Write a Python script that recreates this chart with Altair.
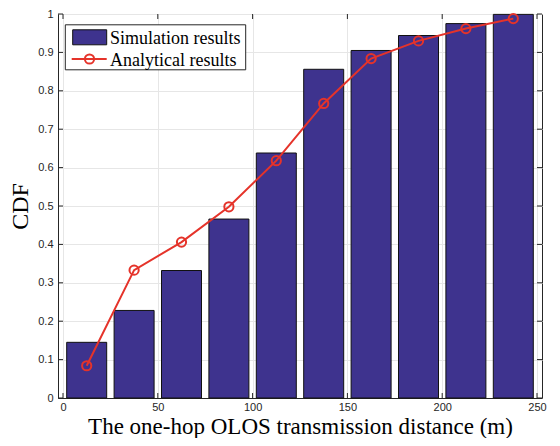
import altair as alt
import pandas as pd

# ---- data ----
bin_centers = [12.5, 37.5, 62.5, 87.5, 112.5, 137.5, 162.5, 187.5, 212.5, 237.5]
sim_cdf = [0.145, 0.228, 0.332, 0.466, 0.638, 0.856, 0.905, 0.944, 0.975, 0.999]
ana_cdf = [0.084, 0.333, 0.406, 0.498, 0.618, 0.767, 0.884, 0.930, 0.962, 0.988]
x_ticks = [0, 50, 100, 150, 200, 250]
y_ticks = [0, 0.1, 0.2, 0.3, 0.4, 0.5, 0.6, 0.7, 0.8, 0.9, 1.0]

W, H = 484, 384
BAR_COLOR = "#3e338e"
RED = "#e5332a"
AX = "#262626"
SERIF = "Liberation Serif"
SANS = "Liberation Sans"

df = pd.DataFrame({"x": bin_centers, "sim": sim_cdf, "ana": ana_cdf})
xt = pd.DataFrame({"t": x_ticks})
yt = pd.DataFrame({"t": y_ticks})
one = pd.DataFrame({"a": [0]})

xs = alt.Scale(domain=[0, 250], nice=False, zero=False)
ys = alt.Scale(domain=[0, 1], nice=False)

xaxis = alt.Axis(values=x_ticks, grid=True, gridColor="#e6e6e6", tickSize=0,
                 labelPadding=3, labelFont=SANS, labelFontSize=11, labelColor=AX,
                 labelOverlap=False, labelExpr="format(datum.value, 'd')",
                 domainColor=AX, title="The one-hop OLOS transmission distance (m)",
                 titleFont=SERIF, titleFontSize=23, titleFontWeight="normal",
                 titleColor="black", titleY=35, titleBaseline="alphabetic")
yaxis = alt.Axis(values=y_ticks, grid=True, gridColor="#e6e6e6", tickSize=0,
                 labelPadding=5, labelFont=SANS, labelFontSize=11, labelColor=AX,
                 labelOverlap=False,
                 labelExpr="datum.value == 0 ? '0' : (datum.value >= 0.999 ? '1' : format(datum.value, '.1f'))",
                 domainColor=AX, title="CDF", titleFont=SERIF, titleFontSize=24,
                 titleFontWeight="normal", titleColor="black", titleX=-26,
                 titleBaseline="bottom")


def X(f):
    return alt.X(f, type="quantitative", scale=xs, axis=xaxis)


def Y(f):
    return alt.Y(f, type="quantitative", scale=ys, axis=yaxis)


bars = alt.Chart(df).mark_bar(size=40, color=BAR_COLOR, stroke="#111111",
                              strokeWidth=1).encode(x=X("x"), y=Y("sim"))
line = alt.Chart(df).mark_line(color=RED, strokeWidth=2).encode(x=X("x"), y=Y("ana"))
pts = alt.Chart(df).mark_point(shape="circle", filled=False, color=RED, size=85,
                               strokeWidth=2, opacity=1).encode(x=X("x"), y=Y("ana"))

# inward ticks on all four sides
tk = 5
xb = alt.Chart(xt).mark_rule(color=AX, strokeWidth=1).encode(
    x=X("t"), y=alt.value(H), y2=alt.value(H - tk))
xtp = alt.Chart(xt).mark_rule(color=AX, strokeWidth=1).encode(
    x=X("t"), y=alt.value(0), y2=alt.value(tk))
yl = alt.Chart(yt).mark_rule(color=AX, strokeWidth=1).encode(
    y=Y("t"), x=alt.value(0), x2=alt.value(tk))
yr = alt.Chart(yt).mark_rule(color=AX, strokeWidth=1).encode(
    y=Y("t"), x=alt.value(W), x2=alt.value(W - tk))

# legend (top offset relative to plot top)
o = -6
lbox = alt.Chart(one).mark_rect(fill="white", stroke=AX, strokeWidth=1).encode(
    x=alt.value(7.3), x2=alt.value(187.7), y=alt.value(16.8 + o), y2=alt.value(61.8 + o))
lsw = alt.Chart(one).mark_rect(fill=BAR_COLOR, stroke="#111111", strokeWidth=1).encode(
    x=alt.value(14.7), x2=alt.value(48.7), y=alt.value(21.8 + o), y2=alt.value(36.8 + o))
lln = alt.Chart(one).mark_rule(color=RED, strokeWidth=2).encode(
    x=alt.value(13.7), x2=alt.value(48.7), y=alt.value(51 + o))
lpt = alt.Chart(one).mark_point(shape="circle", filled=False, color=RED, size=85,
                                strokeWidth=2, opacity=1).encode(
    x=alt.value(31.5), y=alt.value(51 + o))
ltx1 = alt.Chart(one).mark_text(text="Simulation results", align="left",
                                baseline="alphabetic", font=SERIF, fontSize=18,
                                color="black").encode(x=alt.value(52), y=alt.value(36 + o))
ltx2 = alt.Chart(one).mark_text(text="Analytical results", align="left",
                                baseline="alphabetic", font=SERIF, fontSize=18,
                                color="black").encode(x=alt.value(52), y=alt.value(57.5 + o))

chart = alt.layer(bars, line, pts, xb, xtp, yl, yr,
                  lbox, lsw, lln, lpt, ltx1, ltx2).properties(
    width=W, height=H,
    autosize=alt.AutoSizeParams(type="none"),
    padding={"left": 50, "top": 6, "right": 10, "bottom": 40},
).configure_view(stroke=AX, strokeWidth=1)

chart.save("out.html", embed_options={"renderer": "svg", "actions": False})
